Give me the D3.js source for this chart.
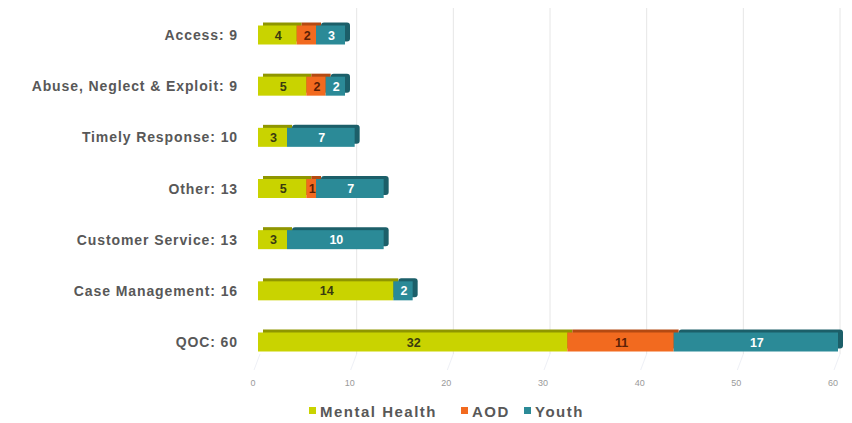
<!DOCTYPE html>
<html>
<head>
<meta charset="utf-8">
<script src="https://cdn.jsdelivr.net/npm/d3@7/dist/d3.min.js"></script>
<style>
  html, body { margin: 0; padding: 0; background: #ffffff; }
  svg { display: block; }
  text { font-family: "Liberation Sans", Arial, sans-serif; }
</style>
</head>
<body>
<svg id="chart" width="852" height="423"></svg>
<script>
// Complaint categories (top to bottom) and counts by program
const categories = ["Access", "Abuse, Neglect & Exploit", "Timely Response", "Other",
                    "Customer Service", "Case Management", "QOC"];
const mentalHealth = [4, 5, 3, 5, 3, 14, 32];
const aod          = [2, 2, 0, 1, 0, 0, 11];
const youth        = [3, 2, 7, 7, 10, 2, 17];
const seriesNames  = ["Mental Health", "AOD", "Youth"];
const xTicks       = [0, 10, 20, 30, 40, 50, 60];

const colors = ["#c9d300", "#f26a1f", "#2b8a97"];
const darker = ["#8f9600", "#b44a12", "#1c5f69"];
const textColors = ["#3a3a10", "#5a2006", "#ffffff"];

const svg = d3.select("#chart");

const x = d3.scaleLinear().domain([0, 60]).range([258, 838]);
const yc = d3.scalePoint().domain(categories).range([35, 342]);
const barH = 19;
const depthX = 5, depthY = 3;

const rows = categories.map((c, i) => ({
  cat: c, vals: [mentalHealth[i], aod[i], youth[i]]
}));
rows.forEach(r => { r.total = d3.sum(r.vals); });

const stack = d3.stack().keys([0, 1, 2]).value((d, k) => d.vals[k]);
const layers = stack(rows);

// vertical gridlines
svg.append("g").selectAll("line").data(xTicks.filter(t => t > 0)).join("line")
  .attr("x1", d => x(d) + 2).attr("x2", d => x(d) + 2)
  .attr("y1", 8).attr("y2", 354)
  .attr("stroke", "#e6e6e6").attr("stroke-width", 1);

// faint floor lines running from the ticks back to the plot base
svg.append("g").selectAll("line").data(xTicks).join("line")
  .attr("x1", d => x(d) - 4).attr("y1", 370)
  .attr("x2", d => x(d) + 2).attr("y2", 354)
  .attr("stroke", "#eef0f6").attr("stroke-width", 1);

// x tick labels
svg.append("g").selectAll("text").data(xTicks).join("text")
  .attr("x", d => x(d) - 5).attr("y", 386)
  .attr("text-anchor", "middle")
  .attr("font-size", 9).attr("fill", "#9a9a9a")
  .text(d => d);

// bar depth (darker back face); only the outer end is rounded
const back = svg.append("g");
rows.forEach((r, i) => {
  const lastK = d3.max([0, 1, 2].filter(k => r.vals[k] > 0));
  layers.forEach((layer, k) => {
    const d = layer[i];
    if (r.vals[k] === 0) return;
    back.append("rect")
      .attr("x", x(d[0]) + depthX)
      .attr("y", yc(r.cat) - barH / 2 - depthY)
      .attr("width", x(d[1]) - x(d[0]))
      .attr("height", barH)
      .attr("rx", k === lastK ? 3 : 0)
      .attr("fill", darker[k]);
  });
});

// front faces
const front = svg.append("g");
layers.forEach((layer, k) => {
  front.selectAll(null).data(layer.filter((d, i) => rows[i].vals[k] > 0)).join("rect")
    .attr("x", d => x(d[0]))
    .attr("y", d => yc(d.data.cat) - barH / 2)
    .attr("width", d => x(d[1]) - x(d[0]))
    .attr("height", barH)
    .attr("fill", colors[k]);
});

// segment value labels
layers.forEach((layer, k) => {
  front.selectAll(null).data(layer.filter((d, i) => rows[i].vals[k] > 0)).join("text")
    .attr("x", d => (x(d[0]) + x(d[1])) / 2 + 1)
    .attr("y", d => yc(d.data.cat) + 4.5)
    .attr("text-anchor", "middle")
    .attr("font-size", 12.5).attr("font-weight", "bold")
    .attr("fill", textColors[k])
    .text(d => d[1] - d[0]);
});

// category labels with totals
svg.append("g").selectAll("text").data(rows).join("text")
  .attr("x", 238)
  .attr("y", d => yc(d.cat) + 5)
  .attr("text-anchor", "end")
  .attr("font-size", 14).attr("font-weight", "bold")
  .attr("letter-spacing", 0.9)
  .attr("fill", "#585858")
  .text(d => `${d.cat}: ${d.total}`);

// legend
const legendX = [309, 461, 524];
const lg = svg.append("g");
seriesNames.forEach((name, k) => {
  lg.append("rect")
    .attr("x", legendX[k]).attr("y", 407)
    .attr("width", 7).attr("height", 7)
    .attr("fill", colors[k]);
  lg.append("text")
    .attr("x", legendX[k] + 11).attr("y", 417)
    .attr("font-size", 15).attr("font-weight", "bold")
    .attr("letter-spacing", 1.5)
    .attr("fill", "#585858")
    .text(name);
});
</script>
</body>
</html>
